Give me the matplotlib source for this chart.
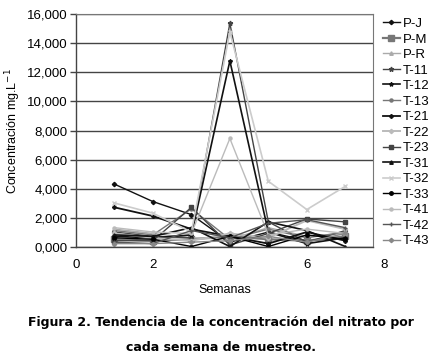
import matplotlib.pyplot as plt
import numpy as np

weeks = [1, 2, 3, 4, 5, 6, 7]
names = ['P-J', 'P-M', 'P-R', 'T-11', 'T-12', 'T-13', 'T-21', 'T-22',
         'T-23', 'T-31', 'T-32', 'T-33', 'T-41', 'T-42', 'T-43']
values = {
    'P-J':  [4300, 3100, 2200, 300, 1000, 400, 600],
    'P-M':  [500, 400, 500, 700, 500, 400, 700],
    'P-R':  [1200, 900, 600, 500, 1300, 700, 900],
    'T-11': [1000, 700, 600, 15400, 1700, 300, 1100],
    'T-12': [700, 600, 800, 12800, 1000, 200, 600],
    'T-13': [1100, 800, 2600, 500, 1200, 600, 1000],
    'T-21': [2700, 2100, 1200, 700, 200, 1000, 400],
    'T-22': [900, 600, 400, 900, 600, 1800, 1200],
    'T-23': [400, 400, 2700, 100, 900, 1900, 1700],
    'T-31': [800, 700, 1300, 0, 1700, 1100, 0],
    'T-32': [3000, 2300, 1000, 14800, 4500, 2550, 4150],
    'T-33': [600, 500, 0, 700, 0, 800, 500],
    'T-41': [1300, 1000, 900, 7450, 800, 1200, 900],
    'T-42': [300, 200, 1100, 600, 1600, 1850, 1300],
    'T-43': [200, 200, 300, 400, 700, 300, 900],
}
ytick_vals = [0, 2000, 4000, 6000, 8000, 10000, 12000, 14000, 16000]
ytick_labels = ['0,000', '2,000', '4,000', '6,000', '8,000', '10,000',
                '12,000', '14,000', '16,000']

STYLE = {
    'P-J':  ('#111111', 'D', 2.2, 1.0),
    'P-M':  ('#777777', 's', 4.0, 1.6),
    'P-R':  ('#aaaaaa', '^', 2.5, 1.0),
    'T-11': ('#444444', '*', 3.5, 1.0),
    'T-12': ('#111111', '*', 3.0, 1.2),
    'T-13': ('#777777', 'o', 2.2, 1.0),
    'T-21': ('#111111', 'P', 2.5, 1.3),
    'T-22': ('#bbbbbb', 'D', 2.2, 1.4),
    'T-23': ('#444444', 's', 2.2, 1.0),
    'T-31': ('#111111', '^', 2.5, 1.2),
    'T-32': ('#cccccc', 'x', 2.5, 1.2),
    'T-33': ('#000000', 'o', 2.5, 1.0),
    'T-41': ('#bbbbbb', 'o', 2.2, 1.0),
    'T-42': ('#555555', '+', 3.0, 1.0),
    'T-43': ('#888888', 'D', 2.2, 1.0),
}

plt.rcParams['font.family'] = ['Liberation Sans', 'DejaVu Sans']
fig = plt.figure(figsize=(4.38, 3.62), dpi=100)
ax = fig.add_axes([0.1735, 0.319, 0.678, 0.641])

lines = []
for n in names:
    c, m, ms, lw = STYLE[n]
    line, = ax.plot(weeks, values[n], color=c, marker=m, markersize=ms,
                    linewidth=lw, markeredgecolor=c, zorder=2)
    lines.append(line)

ax.set_xlim(0, 7.72)
ax.set_ylim(0, 16000)
ax.set_xticks([0, 2, 4, 6])
ax.set_yticks(ytick_vals)
ax.set_yticklabels(ytick_labels)
ax.tick_params(axis='y', length=4, width=1, color='#444444', labelsize=9.5, pad=2)
ax.tick_params(axis='x', length=0, labelsize=9.5, pad=9)
ax.text(8, -0.054, '8', transform=ax.get_xaxis_transform(), ha='center',
        va='top', fontsize=9.5, clip_on=False)
ax.grid(axis='y', color='#444444', linewidth=1.0, zorder=0)
for s in ['left', 'bottom']:
    ax.spines[s].set_color('#444444')
    ax.spines[s].set_linewidth(1.0)
for s in ['right', 'top']:
    ax.spines[s].set_color('#777777')
    ax.spines[s].set_linewidth(0.8)

ax.set_xlabel('Semanas', fontsize=9, labelpad=9)
ax.set_ylabel('Concentración mg.L$^{-1}$', fontsize=9, labelpad=3)

fig.legend(lines, names, loc='upper left', bbox_to_anchor=(0.874, 0.951),
           frameon=False, fontsize=9.5, handlelength=1.3, handletextpad=0.2,
           labelspacing=0.25, borderaxespad=0, borderpad=0)

fig.text(0.505, 0.1, 'Figura 2. Tendencia de la concentración del nitrato por',
         ha='center', fontsize=9, fontweight='bold', family='DejaVu Sans')
fig.text(0.505, 0.03, 'cada semana de muestreo.',
         ha='center', fontsize=9, fontweight='bold', family='DejaVu Sans')

fig.savefig('out.png', dpi=100)
